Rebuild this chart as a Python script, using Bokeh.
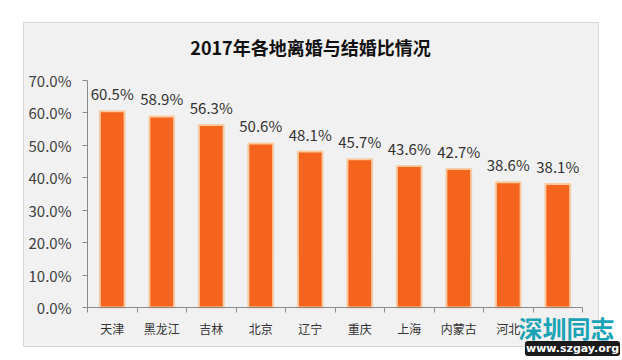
from bokeh.plotting import figure
from bokeh.models import (ColumnDataSource, Range1d, FixedTicker, PrintfTickFormatter,
                          Label, BoxAnnotation)
from bokeh.core.properties import value
from bokeh.embed import file_html
from bokeh.resources import INLINE

regions = ["天津", "黑龙江", "吉林", "北京", "辽宁", "重庆", "上海", "内蒙古", "河北", ""]
ratios = [60.5, 58.9, 56.3, 50.6, 48.1, 45.7, 43.6, 42.7, 38.6, 38.1]
y_ticks = [0, 10, 20, 30, 40, 50, 60, 70]
title_text = "2017年各地离婚与结婚比情况"

FONT = "Noto Sans CJK SC"
BG = "#f1f1f1"
AX = "#8a8a8a"

# layout geometry (canvas pixels)
W, H = 622, 360
X0, X1 = 87, 582      # x = 0 and x = n
Y0, Y70 = 307, 80     # y = 0 and y = 70
n = len(regions)
sx = (X1 - X0) / n
sy = (Y0 - Y70) / 70.0


def dx(px):
    return (px - X0) / sx


def dy(py):
    return (Y0 - py) / sy


xs = [i + 0.5 for i in range(n)]
src = ColumnDataSource(dict(x=xs, top=ratios, lab=["%.1f%%" % v for v in ratios]))

p = figure(width=W, height=H, output_backend="svg", toolbar_location=None,
           x_range=Range1d(dx(0), dx(W)), y_range=Range1d(dy(H), dy(0)),
           min_border=0, min_border_left=0, min_border_right=0,
           min_border_top=0, min_border_bottom=0)
p.border_fill_color = "white"
p.background_fill_color = "white"
p.outline_line_color = None
p.grid.visible = False

# chart box
p.add_layout(BoxAnnotation(left=dx(23), right=dx(598), top=dy(22), bottom=dy(346),
                           fill_color=BG, fill_alpha=1, line_color=AX, line_width=1,
                           level="underlay"))

p.vbar(x="x", top="top", width=0.5, source=src, fill_color="#f4641c",
       line_color="#fbcaa0", line_width=2)
p.text(x="x", y="top", text="lab", source=src, text_align="center",
       text_baseline="bottom", y_offset=-7, text_font=value(FONT),
       text_font_size="15px", text_color="#333333")

# x axis
xa = p.xaxis[0]
xa.fixed_location = 0
xa.bounds = (0, n)
xa.ticker = FixedTicker(ticks=xs, minor_ticks=list(range(n + 1)))
xa.major_label_overrides = {x: r for x, r in zip(xs, regions)}
xa.major_tick_line_color = None
xa.major_tick_out = 0
xa.major_tick_in = 0
xa.minor_tick_line_color = AX
xa.minor_tick_out = 5
xa.minor_tick_in = 0
xa.axis_line_color = AX
xa.major_label_standoff = 7
xa.major_label_text_font = FONT
xa.major_label_text_font_size = "12px"
xa.major_label_text_color = "#333333"

# y axis
ya = p.yaxis[0]
ya.fixed_location = 0
ya.bounds = (0, 70)
ya.ticker = FixedTicker(ticks=y_ticks)
ya.formatter = PrintfTickFormatter(format="%.1f%%")
ya.minor_tick_line_color = None
ya.major_tick_line_color = AX
ya.major_tick_out = 5
ya.major_tick_in = 0
ya.axis_line_color = AX
ya.major_label_standoff = 11
ya.major_label_text_font = FONT
ya.major_label_text_font_size = "15px"
ya.major_label_text_color = "#404040"

# title
p.add_layout(Label(x=dx(310), y=dy(46.5), text=title_text,
                   text_align="center", text_baseline="middle", text_font=FONT,
                   text_font_size="18px", text_font_style="bold", text_color="#111111"))

# corner watermark
p.add_layout(Label(x=dx(566), y=dy(327), text="深圳同志",
                   text_align="center", text_baseline="middle", text_font=FONT,
                   text_font_size="24px", text_font_style="bold", text_color="#1aa3b4"))
p.add_layout(Label(x=dx(572), y=dy(348), text="www.szgay.org",
                   text_align="center", text_baseline="middle", text_font="DejaVu Sans",
                   text_font_size="11px", text_font_style="bold", text_color="white",
                   background_fill_color="#1a1a1a", border_radius=3, padding=1))

open("out.html", "w").write(file_html(p, INLINE))
